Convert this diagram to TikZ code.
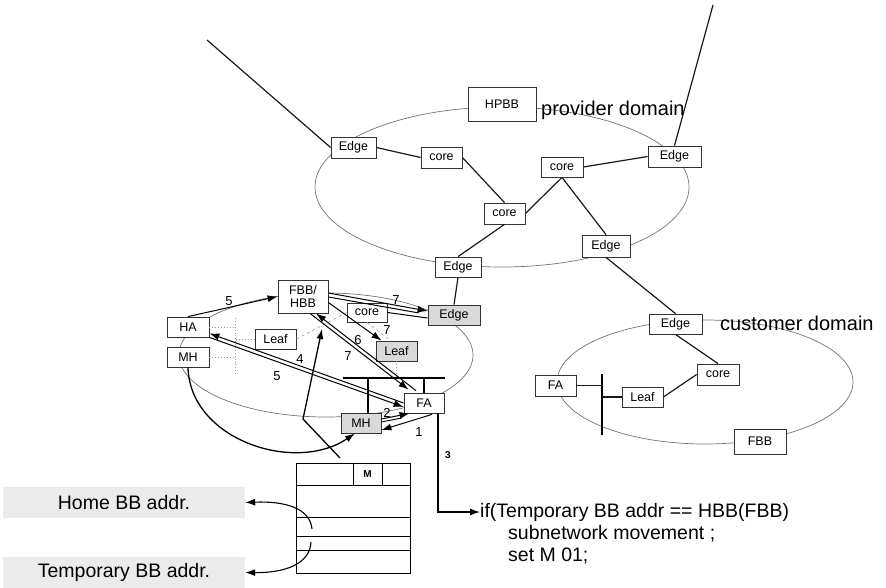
\documentclass[tikz,border=0pt]{standalone}
\usepackage{fontspec}
\setmainfont{Liberation Sans}
\usetikzlibrary{arrows.meta,calc}
\begin{document}
\begin{tikzpicture}[x=1pt,y=-1pt,
  box/.style={draw=black!80, line width=0.8pt, fill=white, inner sep=0pt, font=\fontsize{12.5}{13}\selectfont},
  gbox/.style={box, fill=black!15},
  link/.style={line width=1.2pt, draw=black!90},
  ell/.style={draw=black!55, line width=0.7pt},
  arr/.style={line width=1pt, -{Latex[length=10pt,width=7pt]}},
  dotl/.style={draw=black!40, dotted, line width=0.9pt},
  dashl/.style={draw=black!35, dashed, line width=0.7pt},
  num/.style={font=\fontsize{13}{13}\selectfont, inner sep=0pt},
  big/.style={font=\fontsize{20}{22}\selectfont, inner sep=0pt, anchor=west},
  code/.style={font=\fontsize{19.5}{21}\selectfont, inner sep=0pt, anchor=west},
  lbl/.style={fill=black!8, inner sep=0pt, minimum width=242pt, minimum height=31pt, font=\fontsize{19.5}{21}\selectfont},
]
\useasboundingbox (0,0) rectangle (886,588);

% domain ellipses
\draw[ell] (502,187) ellipse [x radius=187pt, y radius=80pt];
\draw[ell] (705,382) ellipse [x radius=148pt, y radius=62pt];
\draw[ell] (326,355) ellipse [x radius=147pt, y radius=62pt];

% provider domain
\node[box, minimum width=45pt, minimum height=21pt] (e1) at (353.5,147.5) {Edge};
\node[box, minimum width=68pt, minimum height=34pt] (hpbb) at (502,104) {HPBB};
\node[box, minimum width=41pt, minimum height=21pt] (c1) at (441.5,157.5) {core};
\node[box, minimum width=42pt, minimum height=20pt] (c2) at (562,167) {core};
\node[box, minimum width=53pt, minimum height=21pt] (eR) at (674.5,156.5) {Edge};
\node[box, minimum width=41pt, minimum height=21pt] (c3) at (504.5,213.5) {core};
\node[box, minimum width=48pt, minimum height=22pt] (eLR) at (606,246) {Edge};
\node[box, minimum width=46pt, minimum height=20pt] (eB) at (458,267) {Edge};
\node[big] (pd) at (541,110) {provider domain};

% customer domain
\node[box, minimum width=53pt, minimum height=20pt] (ceE) at (675.5,324) {Edge};
\node[box, minimum width=42pt, minimum height=21pt] (ccore) at (718,374.5) {core};
\node[box, minimum width=41pt, minimum height=20pt] (cleaf) at (642.5,397) {Leaf};
\node[box, minimum width=41pt, minimum height=21pt] (cfa) at (555.5,385.5) {FA};
\node[box, minimum width=52pt, minimum height=25pt] (cfbb) at (760,441.5) {FBB};
\node[big] (cd) at (720,323) {customer domain};

% left (home) domain
\node[box, minimum width=50pt, minimum height=33pt, align=center, font=\fontsize{12.5}{13}\selectfont] (fbb) at (303,296.5) {FBB/\\HBB};
\node[box, minimum width=42pt, minimum height=20pt] (ha) at (188,327) {HA};
\node[box, minimum width=42pt, minimum height=20pt] (mh) at (188,357) {MH};
\node[box, minimum width=41pt, minimum height=20pt] (lleaf) at (275.5,339) {Leaf};
\node[box, minimum width=40pt, minimum height=19pt] (lcore) at (367,312.5) {core};
\node[gbox, minimum width=52pt, minimum height=20pt] (lEdge) at (454,315) {Edge};
\node[gbox, minimum width=41pt, minimum height=20pt] (gleaf) at (396.5,351) {Leaf};
\node[box, minimum width=40pt, minimum height=20pt] (fa) at (424,403) {FA};
\node[gbox, minimum width=40pt, minimum height=20pt] (gmh) at (361,423) {MH};

% free ends
\coordinate (tl) at (207,40);
\coordinate (tr) at (713,5);
\coordinate (bar1) at (602,374);
\coordinate (bar2) at (602,435);
\coordinate (vt) at (235,318);
\coordinate (vb) at (235,375);
\coordinate (busL) at (343,378);
\coordinate (busR) at (445,378);
\coordinate (p1) at (340,458);
\coordinate (p2) at (303,419);
\coordinate (uptip) at (322,329);
\coordinate (t1) at (312,529);
\coordinate (t2) at (311,542);

% provider links
\draw[link] (tl) -- (e1.west);
\draw[link] (tr) -- (eR.north);
\draw[link] (e1.east) -- (c1.west);
\draw[link] (c1.east) -- (c3.north);
\draw[link] (c3.east) -- (c2.south);
\draw[link] (c2.east) -- (eR.west);
\draw[link] (c2.south) -- (eLR.north);
\draw[link] (c3.south) -- (eB.north);
\draw[link] (eLR.south) -- (ceE.north);
\draw[link] (eB.south) -- (lEdge.north);

% customer links
\draw[link] (ceE.south) -- (ccore.north);
\draw[link] (cleaf.east) -- (ccore.west);
\draw[line width=1.4pt] (bar1) -- (bar2);
\draw[link] (cfa.east) -- (cfa.east -| bar1);
\draw[link] (cleaf.west) -- (cleaf.west -| bar1);

% gray dotted / dashed links in home domain
\draw[dotl] (vt) -- (vb);
\draw[dotl] (ha.east) -- (ha.east -| vt);
\draw[dotl] (mh.east) -- (mh.east -| vt);
\draw[dotl] (lleaf.west) -- (lleaf.west -| vt);
\draw[dashl] (lleaf.east) -- (lcore.west);
\draw[dashl] (lcore.south) -- ([xshift=-6pt]gleaf.north);
\draw[dotl] (gleaf.south) -- (gleaf.south |- busL);

% solid bus at FA
\draw[line width=1.1pt] (busL) -- (busR);
\draw[line width=1.1pt] ([xshift=7pt]gmh.north) -- ([xshift=7pt]gmh.north |- busL);
\draw[line width=1.1pt] (fa.north) -- (fa.north |- busL);
\draw[line width=1pt] (lcore.east) -- ([yshift=-3pt]lEdge.west);

% message arrows
\draw[arr] (ha.north) -- (fbb.west);
\node[num] (n5a) at (229,301) {5};

\draw[arr] ([yshift=3.5pt]fbb.east) -- ([yshift=4pt]lEdge.west);
\draw[line width=1pt, shorten >=9pt] ([yshift=-0.5pt]fbb.east) -- ([yshift=0.5pt]lEdge.west);
\node[num] (n7a) at (396,300) {7};

\draw[arr] ([yshift=-6pt]fbb.east) -- ([xshift=-15pt]gleaf.north);
\node[num] (n7b) at (387,330) {7};

\draw[arr] ([xshift=7pt]fbb.south) -- ([xshift=5pt,yshift=3pt]fa.north west);
\draw[arr] ([xshift=-8pt,yshift=2pt]fa.north) -- ([xshift=13pt]fbb.south);
\node[num] (n6) at (358,340) {6};
\node[num] (n7c) at (348,356) {7};

\draw[arr] (fa.west) -- ([yshift=4pt]ha.south east);
\draw[arr] (ha.south east) -- ([yshift=-4pt]fa.west);
\node[num] (n4) at (300,359) {4};
\node[num] (n5b) at (277,376) {5};

\draw[arr] ([yshift=4pt]gmh.east) -- ([xshift=6pt]fa.south west);
\draw[line width=0.9pt, shorten >=8pt] ([yshift=1pt]gmh.east) -- ([xshift=6pt,yshift=-3pt]fa.south west);
\node[num] (n2) at (387,413) {2};

\draw[arr] ([xshift=8pt,yshift=-1pt]fa.south) -- ([yshift=-7pt]gmh.east);
\node[num] (n1) at (419,432) {1};

\draw[arr, line width=1.3pt] (mh.south) .. controls (190,440) and (295,474) .. ([xshift=-6pt]gmh.south);
\draw[arr, line width=1.3pt] (p1) -- (p2) -- (uptip);

% packet header table
\draw[line width=1pt] (296,463) rectangle (410,573);
\foreach \yy in {485,517,536,550} \draw[line width=1pt] (296,\yy) -- (410,\yy);
\draw[line width=1pt] (353,463) -- (353,485) (382,463) -- (382,485);
\node[font=\bfseries\fontsize{10}{10}\selectfont, inner sep=0pt] (mcell) at (367.5,474) {M};

% labels of fields
\node[lbl] (home) at (124,502.5) {Home BB addr.};
\node[lbl] (temp) at (124,572.5) {Temporary BB addr.};
\draw[arr, line width=1.1pt] (t1) .. controls (310,508) and (285,501) .. (home.east);
\draw[arr, line width=1.1pt] (t2) .. controls (310,564) and (285,573) .. (temp.east);

% code
\node[code] (code1) at (480,512) {if(Temporary BB addr == HBB(FBB)};
\node[code] (code2) at (508,534) {subnetwork movement ;};
\node[code] (code3) at (508,556) {set M 01;};
\draw[arr, line width=1.1pt] ([xshift=14pt]fa.south) |- (code1.west);
\node[font=\bfseries\fontsize{10}{10}\selectfont, inner sep=0pt] (n3) at (448,455) {3};
\end{tikzpicture}
\end{document}
